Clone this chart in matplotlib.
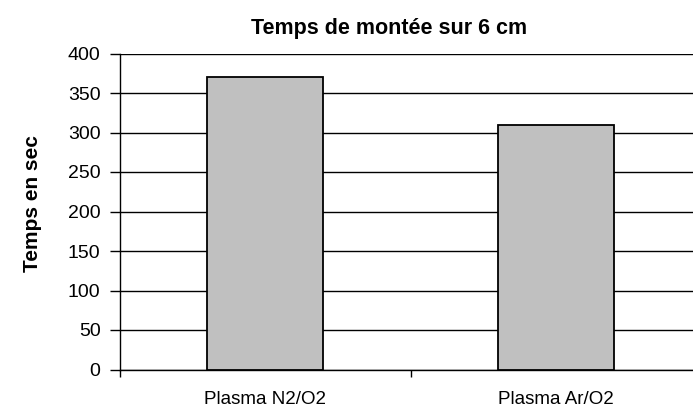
import matplotlib.pyplot as plt
from matplotlib.transforms import blended_transform_factory

# Rise time over 6 cm for each plasma
categories = ['Plasma N2/O2', 'Plasma Ar/O2']
temps = [370, 310]
yticks = [0, 50, 100, 150, 200, 250, 300, 350, 400]

plt.rcParams['font.family'] = ['Liberation Sans', 'DejaVu Sans']

W, H = 693, 409
fig = plt.figure(figsize=(W / 100, H / 100), dpi=100)
left, right, top, bottom = 120, 701, 53.5, 369.5
ax = fig.add_axes([left / W, (H - bottom) / H, (right - left) / W, (bottom - top) / H])

x = range(len(categories))
ax.bar(x, temps, width=0.4, color='#c0c0c0', edgecolor='black', linewidth=1.3, zorder=3)

ax.set_xlim(-0.5, len(categories) - 0.5)
ax.set_ylim(0, 400)
ax.set_yticks(yticks)
ax.yaxis.grid(True, color='black', linewidth=1, zorder=0)
ax.set_axisbelow(True)

# category ticks sit between the bars, labels under the bars
ax.set_xticks([-0.5, 0.5, 1.5])
ax.set_xticklabels([])
trans = blended_transform_factory(ax.transData, fig.transFigure)
for i, c in enumerate(categories):
    ax.text(i, 1 - 404 / H, c, transform=trans, ha='center', va='baseline', fontsize=13.5)

ax.tick_params(axis='x', direction='out', length=5, width=1)
ax.tick_params(axis='y', direction='out', length=7, width=1, labelsize=14, pad=7)

for s in ['top', 'right']:
    ax.spines[s].set_visible(False)
for s in ['left', 'bottom']:
    ax.spines[s].set_linewidth(1)

fig.text(389 / W, 1 - 34 / H, 'Temps de montée sur 6 cm', ha='center', va='baseline',
         fontsize=15.5, fontweight='bold')
fig.text(32 / W, 1 - 204 / H, 'Temps en sec', ha='center', va='center', rotation=90,
         fontsize=15, fontweight='bold')

fig.savefig('out.png', dpi=100)
